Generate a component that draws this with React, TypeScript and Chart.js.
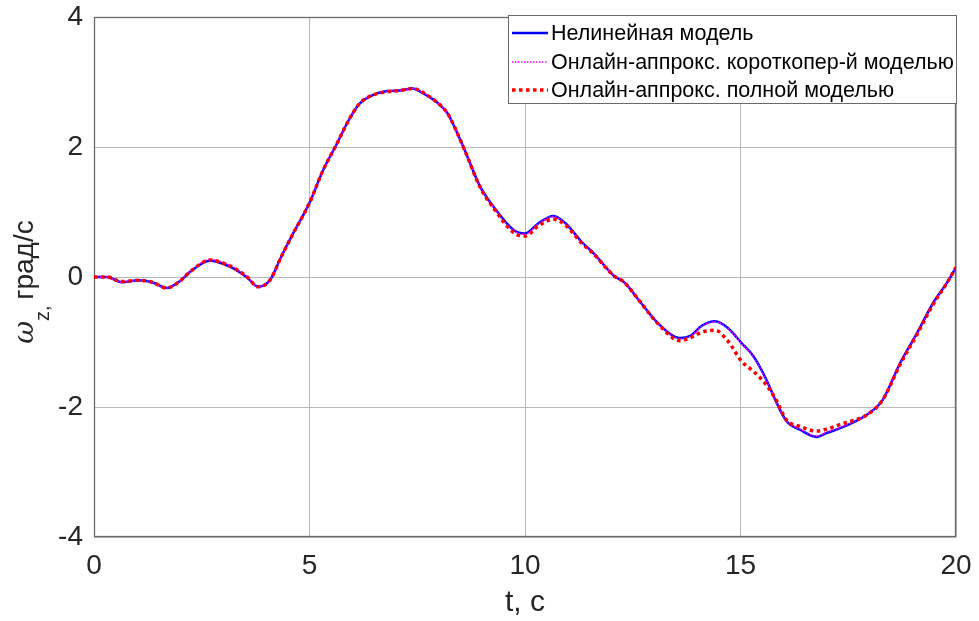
import React, { useEffect, useRef } from "react";
import { Chart, registerables } from "chart.js";

Chart.register(...registerables);

// Time, s
const timeS = [
  0, 0.3, 0.64, 1.03, 1.35, 1.69, 2.0, 2.23, 2.69, 3.15, 3.54, 3.81, 4.08, 4.35, 4.62,
  5.0, 5.32, 5.62, 5.9, 6.15, 6.4, 6.8, 7.1, 7.4, 7.6, 7.97, 8.2, 8.57, 8.96, 9.27, 9.74,
  10.0, 10.3, 10.66, 10.95, 11.3, 11.6, 12.06, 12.3, 12.67, 13.1, 13.6, 13.85, 14.1, 14.41,
  14.7, 15.03, 15.3, 15.6, 15.8, 16.07, 16.38, 16.77, 17.0, 17.3, 17.93, 18.3, 18.7, 19.09,
  19.47, 19.8, 20.0,
];

// ω_z, deg/s — nonlinear model
const nonlinearModel = [
  0.0, 0.0, -0.08, -0.05, -0.08, -0.17, -0.06, 0.08, 0.25, 0.16, 0.0, -0.15, -0.05, 0.32, 0.67,
  1.14, 1.65, 2.03, 2.4, 2.66, 2.78, 2.86, 2.87, 2.9, 2.84, 2.68, 2.52, 2.0, 1.39, 1.08, 0.72,
  0.67, 0.82, 0.94, 0.82, 0.55, 0.36, 0.02, -0.08, -0.38, -0.72, -0.94, -0.9, -0.75, -0.68,
  -0.78, -1.02, -1.22, -1.58, -1.88, -2.22, -2.35, -2.46, -2.4, -2.33, -2.12, -1.89, -1.33, -0.87,
  -0.4, -0.08, 0.15,
];

// ω_z, deg/s — online approximation by the short-period model
const shortPeriodApprox = [
  0.0, 0.0, -0.08, -0.05, -0.08, -0.17, -0.06, 0.09, 0.27, 0.18, 0.01, -0.15, -0.05, 0.32, 0.67,
  1.14, 1.65, 2.03, 2.4, 2.66, 2.79, 2.86, 2.87, 2.9, 2.85, 2.68, 2.52, 2.0, 1.39, 1.07, 0.71,
  0.66, 0.81, 0.93, 0.81, 0.54, 0.36, 0.02, -0.08, -0.38, -0.72, -0.95, -0.91, -0.76, -0.69,
  -0.79, -1.03, -1.23, -1.59, -1.88, -2.22, -2.34, -2.45, -2.39, -2.32, -2.12, -1.89, -1.34, -0.88,
  -0.41, -0.08, 0.15,
];

// ω_z, deg/s — online approximation by the full model
const fullModelApprox = [
  0.0, 0.0, -0.07, -0.05, -0.08, -0.17, -0.06, 0.08, 0.26, 0.17, 0.01, -0.15, -0.05, 0.32, 0.67,
  1.14, 1.65, 2.03, 2.4, 2.66, 2.78, 2.85, 2.87, 2.9, 2.85, 2.68, 2.52, 2.0, 1.38, 1.06, 0.68,
  0.63, 0.78, 0.89, 0.79, 0.53, 0.35, 0.02, -0.08, -0.38, -0.73, -0.98, -0.93, -0.85, -0.82,
  -0.98, -1.3, -1.45, -1.66, -1.86, -2.2, -2.3, -2.37, -2.34, -2.27, -2.12, -1.89, -1.35, -0.89,
  -0.42, -0.08, 0.15,
];

const xTicks = [0, 5, 10, 15, 20];
const yTicks = [-4, -2, 0, 2, 4];

const legendLabels = [
  "Нелинейная модель",
  "Онлайн-аппрокс. короткопер-й моделью",
  "Онлайн-аппрокс. полной моделью",
];

const FONT = "'Liberation Sans', Arial, sans-serif";
const TEXT = "#262626";
const GRID = "#b8b8b8";
const FRAME = "#6a6a6a";

const toPoints = (ys: number[]) => timeS.map((t, i) => ({ x: t, y: ys[i] }));

// Frame, y-axis title (ω with subscript z) and the legend box
const decorPlugin = {
  id: "decor",
  beforeDatasetsDraw(chart: any) {
    const { ctx, chartArea: a } = chart;
    ctx.save();
    ctx.strokeStyle = FRAME;
    ctx.lineWidth = 1.3;
    ctx.strokeRect(a.left + 0.5, a.top + 0.5, a.right - a.left - 1, a.bottom - a.top - 1);
    ctx.restore();
  },
  afterDatasetsDraw(chart: any) {
    const { ctx } = chart;
    const datasets = chart.data.datasets;
    // legend
    const bx = 508, by = 15, bw = 448, bh = 88;
    ctx.save();
    ctx.fillStyle = "#ffffff";
    ctx.fillRect(bx, by, bw, bh);
    ctx.strokeStyle = FRAME;
    ctx.lineWidth = 1;
    ctx.strokeRect(bx + 0.5, by + 0.5, bw, bh);
    const rows = [33, 62, 90];
    [0, 1, 2].forEach((di, r) => {
      const ds = datasets[di];
      const y = rows[r];
      ctx.save();
      ctx.strokeStyle = ds.borderColor;
      ctx.lineWidth = ds.borderWidth;
      ctx.setLineDash(ds.borderDash || []);
      ctx.beginPath();
      ctx.moveTo(512, y);
      ctx.lineTo(548, y);
      ctx.stroke();
      ctx.restore();
      ctx.fillStyle = "#000000";
      ctx.font = `21.5px ${FONT}`;
      ctx.textBaseline = "middle";
      ctx.textAlign = "left";
      ctx.fillText(legendLabels[di], 551, y + 1);
    });
    ctx.restore();
  },
  afterDraw(chart: any) {
    const { ctx } = chart;
    ctx.save();
    ctx.translate(33, 282);
    ctx.rotate(-Math.PI / 2);
    ctx.fillStyle = TEXT;
    ctx.textBaseline = "alphabetic";
    ctx.textAlign = "left";
    const big = `28px ${FONT}`;
    const omega = `italic 28px 'DejaVu Serif', serif`;
    const sub = `20px ${FONT}`;
    const subText = "z, ";
    const rest = "град/с";
    ctx.font = omega;
    const wOm = ctx.measureText("ω").width;
    ctx.font = sub;
    const wSub = ctx.measureText(subText).width;
    ctx.font = big;
    const wRest = ctx.measureText(rest).width;
    let x = -(wOm + wSub + wRest) / 2;
    ctx.font = omega;
    ctx.fillText("ω", x, 0);
    x += wOm;
    ctx.font = sub;
    ctx.fillText(subText, x, 16);
    x += wSub;
    ctx.font = big;
    ctx.fillText(rest, x, 0);
    ctx.restore();
  },
};

export default function App() {
  const canvasRef = useRef<HTMLCanvasElement | null>(null);

  useEffect(() => {
    const canvas = canvasRef.current;
    if (!canvas) return;
    const chart = new Chart(canvas, {
      type: "line",
      data: {
        datasets: [
          {
            label: legendLabels[0],
            data: toPoints(nonlinearModel),
            borderColor: "#0000ff",
            borderWidth: 2.5,
            pointRadius: 0,
            cubicInterpolationMode: "monotone",
            order: 2,
          },
          {
            label: legendLabels[1],
            data: toPoints(shortPeriodApprox),
            borderColor: "#ff00ff",
            borderWidth: 1.5,
            borderDash: [1.5, 1.5],
            pointRadius: 0,
            cubicInterpolationMode: "monotone",
            order: 1,
          },
          {
            label: legendLabels[2],
            data: toPoints(fullModelApprox),
            borderColor: "#ff0000",
            borderWidth: 3.5,
            borderDash: [3.5, 3.5],
            pointRadius: 0,
            cubicInterpolationMode: "monotone",
            order: 0,
          },
        ],
      },
      options: {
        responsive: false,
        animation: false,
        devicePixelRatio: 1,
        layout: { padding: { top: 17, right: 23, left: 0, bottom: 0 } },
        plugins: { legend: { display: false }, tooltip: { enabled: false } },
        scales: {
          x: {
            type: "linear",
            min: 0,
            max: 20,
            afterBuildTicks: (s: any) => {
              s.ticks = xTicks.map((v) => ({ value: v }));
            },
            afterFit: (s: any) => {
              s.height = 84;
              s.paddingLeft = 0;
              s.paddingRight = 0;
            },
            grid: { color: GRID, lineWidth: 1, drawTicks: false },
            border: { display: false },
            ticks: {
              padding: 12,
              color: TEXT,
              font: { family: FONT, size: 28 },
              maxRotation: 0,
            },
            title: {
              display: true,
              text: "t, с",
              color: TEXT,
              font: { family: FONT, size: 30 },
              padding: { top: 6, bottom: 0 },
            },
          },
          y: {
            type: "linear",
            min: -4,
            max: 4,
            afterBuildTicks: (s: any) => {
              s.ticks = yTicks.map((v) => ({ value: v }));
            },
            afterFit: (s: any) => {
              s.width = 94;
              s.paddingTop = 0;
              s.paddingBottom = 0;
            },
            grid: { color: GRID, lineWidth: 1, drawTicks: false },
            border: { display: false },
            ticks: {
              padding: 11,
              color: TEXT,
              font: { family: FONT, size: 28 },
            },
          },
        },
      },
      plugins: [decorPlugin],
    } as any);
    return () => chart.destroy();
  }, []);

  return (
    <div style={{ position: "absolute", left: 0, top: 0, width: 979, height: 621, background: "#fff" }}>
      <canvas ref={canvasRef} width={979} height={621} />
    </div>
  );
}
